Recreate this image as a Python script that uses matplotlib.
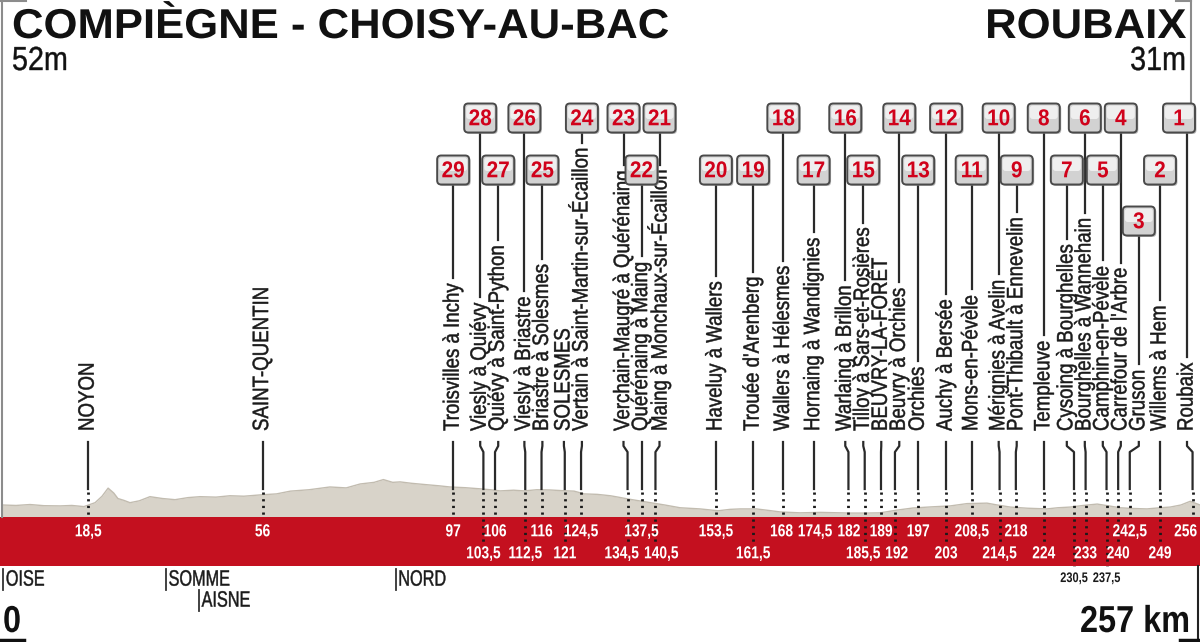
import numpy as np
import matplotlib
matplotlib.use("Agg")
import matplotlib.pyplot as plt
from matplotlib import font_manager as fm
from matplotlib.patches import FancyBboxPatch
from matplotlib.transforms import Affine2D
from matplotlib.patheffects import AbstractPathEffect

# ---------------- data ----------------
start_name = "COMPIÈGNE - CHOISY-AU-BAC"
finish_name = "ROUBAIX"
start_alt = "52m"
finish_alt = "31m"
total_km = 257

places = ["NOYON", "SAINT-QUENTIN", "Troisvilles à Inchy", "Viesly à Quiévy",
          "Quiévy à Saint-Python", "Viesly à Briastre", "Briastre à Solesmes", "SOLESMES",
          "Vertain à Saint-Martin-sur-Écaillon", "Verchain-Maugré à Quérénaing",
          "Quérénaing à Maing", "Maing à Monchaux-sur-Écaillon", "Haveluy à Wallers",
          "Trouée d'Arenberg", "Wallers à Hélesmes", "Hornaing à Wandignies",
          "Warlaing à Brillon", "Tilloy à Sars-et-Rosières", "BEUVRY-LA-FORÊT",
          "Beuvry à Orchies", "Orchies", "Auchy à Bersée", "Mons-en-Pévèle",
          "Mérignies à Avelin", "Pont-Thibault à Ennevelin", "Templeuve",
          "Cysoing à Bourghelles", "Bourghelles à Wannehain", "Camphin-en-Pévèle",
          "Carrefour de l'Arbre", "Gruson", "Willems à Hem", "Roubaix"]
place_km = [18.5, 56, 97, 103.5, 106, 112.5, 116, 121, 124.5, 134.5, 137.5, 140.5,
            153.5, 161.5, 168, 174.5, 182, 185.5, 189, 192, 197, 203, 208.5, 214.5,
            218, 224, 230.5, 233, 237.5, 240, 242.5, 249, 256]
sector_no = [0, 0, 29, 28, 27, 26, 25, 0, 24, 23, 22, 21, 20, 19, 18, 17, 16, 15, 0,
             14, 13, 12, 11, 10, 9, 8, 7, 6, 5, 4, 3, 2, 1]
box_row = [0, 0, 2, 1, 2, 1, 2, 0, 1, 1, 2, 1, 2, 2, 1, 2, 1, 2, 0,
           1, 2, 1, 2, 1, 2, 1, 2, 1, 2, 1, 3, 2, 1]
km_row = [1, 1, 1, 2, 1, 2, 1, 2, 1, 2, 1, 2, 1, 2, 1, 1, 1, 2, 1, 2, 1, 2, 1, 2,
          1, 2, 3, 2, 3, 2, 1, 2, 1]

dept_names = ["OISE", "SOMME", "AISNE", "NORD"]
dept_km = [0.3, 35.3, 42.4, 84.7]
dept_line = [1, 1, 2, 1]

prof_km = [0, 3, 6, 9, 12.5, 15, 17.6, 20, 21.5, 22.8, 24, 24.9, 26.2, 27.5, 29.5,
           31.8, 34.5, 37.2, 40, 42.6, 46, 49, 52, 55.7, 59, 62, 66, 70.5, 74, 77,
           80, 82, 84, 85.6, 88, 91.2, 94, 96.3, 99.5, 102.8, 105, 107.1, 110, 112.3,
           115, 117.8, 120.5, 123, 125.2, 128, 130.8, 132.5, 134.6, 137, 139.4, 142.5,
           145.8, 150.1, 154, 156.5, 158.7, 162.2, 165, 167.3, 171.6, 176, 182.4,
           185.5, 188.8, 192.5, 195.9, 200, 203.9, 207.5, 211.8, 214, 216.8, 220.5,
           224.7, 227, 229.7, 232.5, 235.5, 238, 240.4, 243, 246.2, 249, 251.2, 253.5,
           255.5, 257.6]
prof_alt = [52, 50, 54, 49, 48, 50, 45, 62, 90, 125, 104, 80, 72, 62, 70,
            88, 80, 75, 84, 88, 86, 92, 90, 96, 100, 112, 118, 130, 126, 143,
            150, 162, 150, 152, 146, 140, 135, 130, 127, 122, 118, 113, 116, 113,
            118, 117, 114, 112, 100, 98, 92, 86, 78, 70, 62, 52,
            40, 35, 27, 33, 35, 35, 28, 22, 18, 20, 17,
            17, 18, 30, 39, 44, 48, 58, 60, 52, 43, 38,
            35, 40, 43, 50, 56, 48, 40, 37, 35, 40, 43, 52,
            68, 52]

# ---------------- fonts ----------------
avail = {f.name for f in fm.fontManager.ttflist}
FONT = "Liberation Sans" if "Liberation Sans" in avail else "DejaVu Sans"


class Tall(AbstractPathEffect):
    """Stretch glyphs across the writing direction (condensed-type look)."""

    def __init__(self, sy, yc=36.0, lw=0.0):
        super().__init__()
        self.sy = sy
        self.yc = yc
        self.lw = lw

    def draw_path(self, renderer, gc, tpath, affine, rgbFace=None):
        t = Affine2D().translate(0, -self.yc).scale(1, self.sy).translate(0, self.yc)
        gc0 = renderer.new_gc()
        gc0.copy_properties(gc)
        gc0.set_linewidth(self.lw)
        renderer.draw_path(gc0, tpath, t + affine, rgbFace)
        gc0.restore()


RED = "#C4101F"
INK = "#1a1a1a"
W, H = 1200, 642
BAND_TOP, BAND_BOT = 517, 566

fig = plt.figure(figsize=(W / 100, H / 100), dpi=100)
ax_prof = fig.add_axes([0, (H - BAND_TOP) / H, 1, 60 / H])
ax = fig.add_axes([0, 0, 1, 1])
ax.set_xlim(-0.45, 257.6)
ax.set_ylim(H, 0)
ax.axis("off")
ax_prof.set_xlim(ax.get_xlim())
ax_prof.set_ylim(0, 60 * 4.33)
ax_prof.axis("off")
pxT = Affine2D().scale(1 / W, -1 / H).translate(0, 1) + fig.transFigure
rend = fig.canvas.get_renderer()


def raw_width(s, size, weight="normal"):
    t = fig.text(0, 0, s, fontsize=size, family=FONT, weight=weight)
    w = t.get_window_extent(rend).width
    t.remove()
    return w


def fit(target_px, sample, nominal, weight="normal"):
    """font size giving the sample the target length, and the height stretch
    that restores the nominal glyph height"""
    fs = nominal * target_px / raw_width(sample, nominal, weight)
    return fs, nominal / fs


LAB_FS, LAB_SY = fit(148, "Troisvilles à Inchy", 16)
BOX_FS, BOX_SY = fit(23, "28", 16.5, "bold")
KM_FS, KM_SY = fit(27, "18,5", 12.5, "bold")
SM_FS = KM_FS * 10 / 12.5
DEP_FS, DEP_SY = fit(48, "NORD", 16)
TIT_FS, TIT_SY = fit(656, start_name, 30, "bold")
ALT_FS, ALT_SY = fit(56, start_alt, 24)
FOOT_FS, FOOT_SY = fit(110, f"{total_km} km", 27, "bold")

# elevation profile
ax_prof.fill_between(prof_km, 0, prof_alt, color="#d8d3c9", lw=0)
ax_prof.plot(prof_km, prof_alt, color="#c2bcb0", lw=1)

# red band
ax.axhspan(BAND_TOP, BAND_BOT, color=RED, lw=0, zorder=1)


def k2p(v):
    return ax.transData.transform((v, 0))[0]


def p2k(p):
    return ax.transData.inverted().transform((p, 0))[0]


def spread(pos, sizes, pad, hi=None):
    """Move items apart (least squares) so neighbours keep a minimum gap."""
    n = len(pos)
    c = [0.0]
    for i in range(1, n):
        c.append(c[-1] + (sizes[i - 1] + sizes[i]) / 2 + pad)
    q = [p - ci for p, ci in zip(pos, c)]
    blocks = []
    for v in q:
        blocks.append([v, 1])
        while len(blocks) > 1 and blocks[-2][0] / blocks[-2][1] > blocks[-1][0] / blocks[-1][1]:
            s, k = blocks.pop()
            blocks[-1][0] += s
            blocks[-1][1] += k
    qq = []
    for s, k in blocks:
        qq += [s / k] * k
    if hi is not None:
        qq[-1] = min(qq[-1], hi - c[-1])
        for i in range(n - 2, -1, -1):
            qq[i] = min(qq[i], qq[i + 1])
    return [v + ci for v, ci in zip(qq, c)]


line_px = [k2p(v) for v in place_km]
label_px = spread(line_px, [18] * len(line_px), 0, hi=W - 13)
label_km = [p2k(p) for p in label_px]

LABEL_BASE = 431
label_top = []
for name, lk in zip(places, label_km):
    ax.text(lk, LABEL_BASE, name, rotation=90, ha="center", va="bottom",
            fontsize=LAB_FS, family=FONT, color=INK, zorder=4,
            path_effects=[Tall(LAB_SY, 30, lw=0.35)])
    label_top.append(LABEL_BASE - raw_width(name, LAB_FS))

# lower connectors and dotted parts
DOT = dict(color="#1a1a1a", lw=2.0, ls=(0, (0.8, 1.6)), zorder=3)
for k, lk, r in zip(place_km, label_km, km_row):
    ax.plot([lk, lk, k, k], [442, 446, 452, 489], color="#2a2a2a", lw=1.6,
            solid_joinstyle="round", zorder=3)
    ax.plot([k, k], [492, BAND_TOP], **DOT)
    if r == 2:
        ax.plot([k, k], [BAND_TOP + 2, 543], **DOT)
    if r == 3:
        ax.plot([k, k], [BAND_TOP + 2, BAND_BOT], **DOT)

# km labels in / under the band
KM_Y = {1: 531, 2: 553, 3: 578}
for row in (1, 2, 3):
    idx = [i for i, r in enumerate(km_row) if r == row]
    labs = [f"{place_km[i]:g}".replace(".", ",") for i in idx]
    fs = KM_FS if row < 3 else SM_FS
    widths = [raw_width(s, fs, "bold") for s in labs]
    xs = spread([line_px[i] for i in idx], widths, 5, hi=W - widths[-1] / 2 - 3)
    for s, x in zip(labs, xs):
        ax.text(x, KM_Y[row], s, transform=pxT, ha="center", va="center",
                color="white" if row < 3 else INK, fontsize=fs, family=FONT,
                weight="bold", zorder=5, path_effects=[Tall(KM_SY, 36)])

# boxes
ROW_Y = {1: 118, 2: 170, 3: 221}
BW, BH = 32, 29
for row in (1, 2, 3):
    idx = [i for i, r in enumerate(box_row) if r == row]
    got = spread([label_px[i] for i in idx], [BW] * len(idx), 3, hi=W - BW / 2 - 5)
    for i, bx in zip(idx, got):
        cy = ROW_Y[row]
        ax.plot([label_km[i], label_km[i]], [cy + BH / 2, label_top[i] - 6],
                color="#2a2a2a", lw=1.6, zorder=3)
        sh = FancyBboxPatch((bx - BW / 2 + 1.5, cy - BH / 2 + 1.5), BW, BH,
                            boxstyle="round,pad=0,rounding_size=4", transform=pxT,
                            fc="#8a8a8a", ec="none", alpha=0.6, zorder=5)
        bx_p = FancyBboxPatch((bx - BW / 2, cy - BH / 2), BW, BH,
                              boxstyle="round,pad=0,rounding_size=4", transform=pxT,
                              fc="#d2d2d2", ec="#4a4a4a", lw=1.4, zorder=6)
        hl = FancyBboxPatch((bx - BW / 2 + 2, cy - BH / 2 + 2), BW - 4, BH / 2 - 1,
                            boxstyle="round,pad=0,rounding_size=3", transform=pxT,
                            fc="#efefef", ec="none", zorder=6.5)
        for p in (sh, bx_p, hl):
            ax.add_patch(p)
        ax.text(bx, cy + 1, str(sector_no[i]), transform=pxT, ha="center",
                va="center", color="#D0021B", fontsize=BOX_FS, family=FONT,
                weight="bold", zorder=7, path_effects=[Tall(BOX_SY, 36)])

# departments
for name, k, ln in zip(dept_names, dept_km, dept_line):
    y = 579 if ln == 1 else 600
    ax.plot([k, k], [y - 10, y + 11], color="#333", lw=1.3, zorder=3)
    ax.text(k + 0.5, y, name, ha="left", va="center", fontsize=DEP_FS, family=FONT,
            color=INK, path_effects=[Tall(DEP_SY, 36, lw=0.3)])

# frame
fr = dict(color="#8c8c8c", lw=1.5, transform=pxT)
ax.plot([2, 2], [0, BAND_TOP], **fr)
ax.plot([0, 26], [1, 1], **fr)
ax.plot([1176, 1191], [1, 1], **fr)
ax.plot([1191, 1191], [0, 104], **fr)
ax.plot([1198, 1198], [BAND_BOT, H], color="#222", lw=1.5, transform=pxT)
ax.plot([0, 24], [640, 640], color="#111", lw=2.5, transform=pxT)
ax.plot([1180, 1200], [640, 640], color="#111", lw=2.5, transform=pxT)

# header / footer
ax.text(12, 38, start_name, transform=pxT, fontsize=TIT_FS, family=FONT, weight="bold",
        color="#111", ha="left", va="baseline", path_effects=[Tall(TIT_SY, 0)])
ax.text(1186, 38, finish_name, transform=pxT, fontsize=TIT_FS, family=FONT,
        weight="bold", color="#111", ha="right", va="baseline",
        path_effects=[Tall(TIT_SY, 0)])
ax.text(12, 70, start_alt, transform=pxT, fontsize=ALT_FS, family=FONT, color="#111",
        ha="left", va="baseline", path_effects=[Tall(ALT_SY, 0, lw=0.3)])
ax.text(1186, 70, finish_alt, transform=pxT, fontsize=ALT_FS, family=FONT,
        color="#111", ha="right", va="baseline", path_effects=[Tall(ALT_SY, 0, lw=0.3)])
ax.text(3, 632, "0", transform=pxT, fontsize=FOOT_FS, family=FONT, weight="bold",
        color="#111", ha="left", va="baseline", path_effects=[Tall(FOOT_SY, 0)])
ax.text(1190, 632, f"{total_km} km", transform=pxT, fontsize=FOOT_FS, family=FONT,
        weight="bold", color="#111", ha="right", va="baseline",
        path_effects=[Tall(FOOT_SY, 0)])

fig.savefig("out.png", dpi=100)
